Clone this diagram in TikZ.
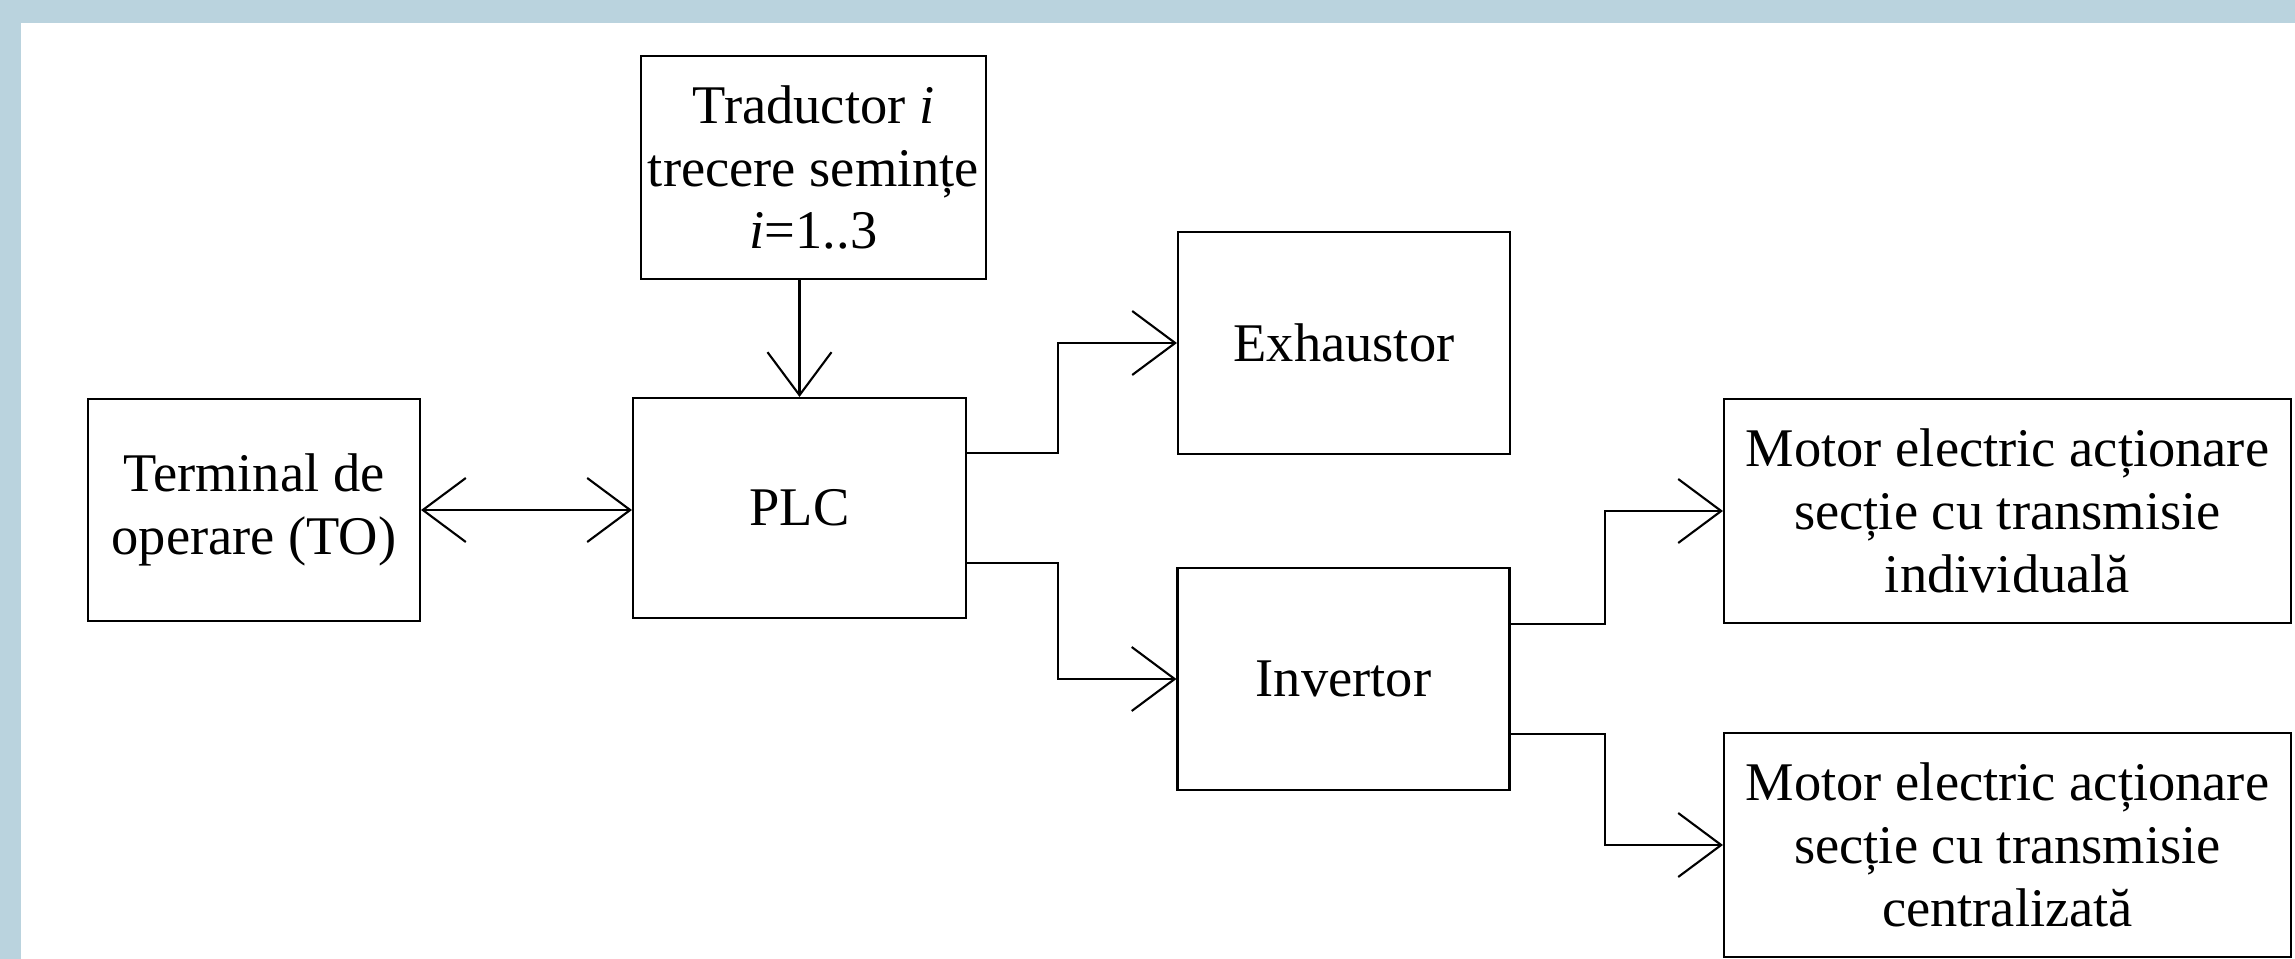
\documentclass[tikz,border=0pt]{standalone}
\usepackage{fontspec}
\usepackage{tikz}
\setmainfont{Liberation Serif}
\usetikzlibrary{arrows.meta}
\definecolor{frameblue}{RGB}{186, 211, 222}

\begin{document}
\begin{tikzpicture}[
    blockbox/.style={draw=black, line width=0.6pt, minimum width=3.32cm, minimum height=2.22cm,
          inner sep=2pt, align=center, font=\fontsize{15.5}{17.9}\selectfont},
    motorbox/.style={blockbox, minimum width=5.67cm, minimum height=2.24cm},
    link/.style={line width=0.6pt, -{Straight Barb[length=4.3mm, width=6.4mm]}},
    duplink/.style={line width=0.6pt, {Straight Barb[length=4.3mm, width=6.4mm]}-{Straight Barb[length=4.3mm, width=6.4mm]}}
  ]
    % page frame
    \useasboundingbox (0,0) rectangle (22.95,-9.59);
    \fill[frameblue] (0,0) rectangle (22.95,-9.59);
    \fill[white] (0.21,-0.23) rectangle (22.95,-9.59);

    % blocks
    \node[blockbox] (term) at (2.54,-5.10) {Terminal de\\operare (TO)};
    \node[blockbox, minimum width=3.33cm, minimum height=2.20cm] (plc) at (7.995,-5.08) {PLC};
    \node[blockbox, minimum width=3.39cm, minimum height=2.23cm] (trad) at (8.135,-1.675)
        {Traductor \textit{i}\\trecere semințe\\\textit{i}=1..3};
    \node[blockbox] (exh) at (13.44,-3.43) {Exhaustor};
    \node[blockbox] (inv) at (13.435,-6.79) {Invertor};
    \node[motorbox] (mot1) at (20.075,-5.11) {Motor electric acționare\\secție cu transmisie\\individuală};
    \node[motorbox] (mot2) at (20.075,-8.45) {Motor electric acționare\\secție cu transmisie\\centralizată};

    % connections
    \draw[link] (trad.south -| plc.north) -- (plc.north);
    \draw[duplink] (term.east) -- (term.east -| plc.west);
    \draw[link] ([yshift=5.5mm]plc.east) -- ++(0.91,0) |- (exh.west);
    \draw[link] ([yshift=-5.5mm]plc.east) -- ++(0.91,0) |- (inv.west);
    \draw[link] ([yshift=5.5mm]inv.east) -- ++(0.94,0) |- (mot1.west);
    \draw[link] ([yshift=-5.5mm]inv.east) -- ++(0.94,0) |- (mot2.west);
\end{tikzpicture}
\end{document}
